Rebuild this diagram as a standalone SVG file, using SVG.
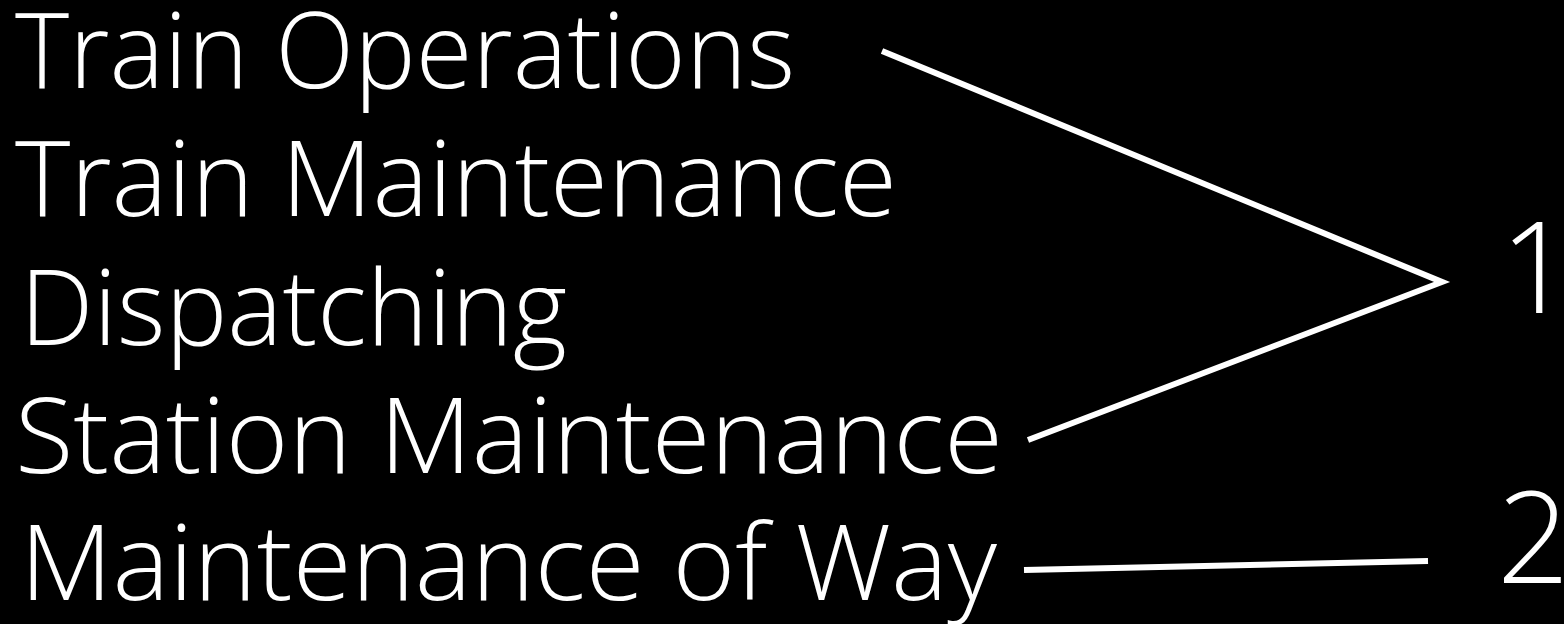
<svg xmlns="http://www.w3.org/2000/svg" width="1564" height="624" viewBox="0 0 1564 624">
<style>
.lbl{font-family:"Open Sans","Noto Sans","Liberation Sans",sans-serif;font-weight:300;fill:#fff;font-size:105px}
.num{font-family:"Open Sans","Noto Sans","Liberation Sans",sans-serif;font-weight:300;fill:#fff;font-size:127px}
.conn{stroke:#fff;stroke-width:6;fill:none;stroke-linecap:butt;stroke-linejoin:miter}
</style>
<rect x="0" y="0" width="1564" height="624" fill="#000"/>
<g id="node-train-operations"><text class="lbl" x="15" y="88" textLength="780" lengthAdjust="spacingAndGlyphs">Train Operations</text></g>
<g id="node-train-maintenance"><text class="lbl" x="15" y="216" textLength="882" lengthAdjust="spacingAndGlyphs">Train Maintenance</text></g>
<g id="node-dispatching"><text class="lbl" x="20" y="345" textLength="547" lengthAdjust="spacingAndGlyphs">Dispatching</text></g>
<g id="node-station-maintenance"><text class="lbl" x="15" y="473" textLength="988" lengthAdjust="spacingAndGlyphs">Station Maintenance</text></g>
<g id="node-maintenance-of-way"><text class="lbl" x="20" y="600" textLength="977" lengthAdjust="spacingAndGlyphs">Maintenance of Way</text></g>
<g id="node-1"><text class="num" x="1500" y="313">1</text></g>
<g id="node-2"><text class="num" x="1497" y="583">2</text></g>
<g id="connectors">
<polyline class="conn" points="882,51 1442,282 1028,440"/>
<line class="conn" x1="1024" y1="570" x2="1428" y2="561"/>
</g>
</svg>
